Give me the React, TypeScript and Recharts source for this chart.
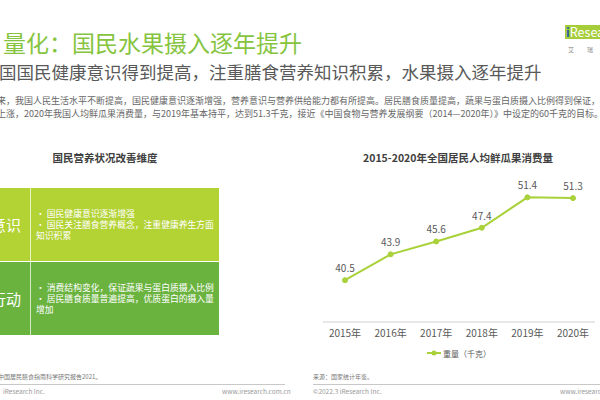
import React from 'react';
import { LineChart, Line, XAxis, YAxis, LabelList, Legend } from 'recharts';

// 数据
const years = ['2015年', '2016年', '2017年', '2018年', '2019年', '2020年'];
const consumption = [40.5, 43.9, 45.6, 47.4, 51.4, 51.3];
const seriesName = '重量（千克）';
const yDomain = [35, 55];

const awarenessPoints = ['• 国民健康意识逐渐增强', '• 国民关注膳食营养概念，注重健康养生方面知识积累'];
const actionPoints = ['• 消费结构变化，保证蔬果与蛋白质摄入比例', '• 居民膳食质量普遍提高，优质蛋白的摄入量增加'];

const LINE_COLOR = '#a9d13a';
const FONT = '"Noto Sans CJK SC", "Noto Sans", sans-serif';

const data = years.map((y, i) => ({ year: y, value: consumption[i] }));

function LegendContent() {
  return (
    <div style={{ height: 24, display: 'flex', justifyContent: 'center', alignItems: 'flex-start' }}>
      <div style={{ display: 'flex', alignItems: 'center', height: 14, fontSize: 8, color: '#595959' }}>
        <svg width={14} height={8} style={{ marginRight: 2 }}>
          <line x1={0} y1={4} x2={14} y2={4} stroke={LINE_COLOR} strokeWidth={2} />
          <circle cx={7} cy={4} r={2.5} fill={LINE_COLOR} />
        </svg>
        <span>{seriesName}</span>
      </div>
    </div>
  );
}

function Box({ top, color, label, points }) {
  return (
    <div style={{ position: 'absolute', left: 0, top, width: 219, height: 73, background: color, display: 'flex' }}>
      <div style={{ width: 30, borderRight: '1px solid rgba(255,255,255,0.7)', position: 'relative' }}>
        <div style={{ position: 'absolute', right: 9, top: 28, fontSize: 15, lineHeight: '17px', color: '#fff', whiteSpace: 'nowrap' }}>{label}</div>
      </div>
      <div style={{ flex: 1, display: 'flex', flexDirection: 'column', justifyContent: 'center', padding: '0 4px 0 5px', fontSize: 8.8, lineHeight: '11.3px', color: '#fff' }}>
        {points.map(p => <div key={p}>{p}</div>)}
      </div>
    </div>
  );
}

export default function App() {
  const abs = (extra) => ({ position: 'absolute' as const, whiteSpace: 'nowrap' as const, lineHeight: 1, ...extra });
  return (
    <div style={{ position: 'absolute', left: 0, top: 0, width: 600, height: 400, overflow: 'hidden', background: '#fff', fontFamily: FONT }}>
      {/* 标题 */}
      <div style={abs({ left: 3, top: 31, fontSize: 23, color: '#86c440' })}>量化：国民水果摄入逐年提升</div>
      <div style={abs({ left: -1, top: 63, fontSize: 17.5, color: '#595959' })}>国国民健康意识得到提高，注重膳食营养知识积累，水果摄入逐年提升</div>
      <div style={abs({ left: -3, top: 95.5, fontSize: 9, color: '#666' })}>来，我国人民生活水平不断提高，国民健康意识逐渐增强，营养意识与营养供给能力都有所提高。居民膳食质量提高，蔬果与蛋白质摄入比例得到保证，摄</div>
      <div style={abs({ left: -3, top: 108.5, fontSize: 9, color: '#666' })}>上涨，2020年我国人均鲜瓜果消费量，与2019年基本持平，达到51.3千克，接近《中国食物与营养发展纲要（2014—2020年）》中设定的60千克的目标。</div>

      {/* logo */}
      <div style={abs({ left: 565, top: 25, width: 40, height: 14, background: '#a5cd39', fontSize: 12.5, lineHeight: '14px', color: '#fff', paddingLeft: 1 })}>
        <span style={{ color: '#2b5fa8', fontWeight: 'bold' }}>i</span>Research
      </div>
      <div style={abs({ left: 568, top: 47, fontSize: 6, color: '#888' })}>艾</div>
      <div style={abs({ left: 587, top: 47, fontSize: 6, color: '#888' })}>瑞</div>

      {/* 左侧 */}
      <div style={abs({ left: 0, top: 152.5, width: 210, textAlign: 'center', fontSize: 10.5, fontWeight: 'bold', color: '#404040' })}>国民营养状况改善维度</div>
      <Box top={188} color="#b3d234" label="意识" points={awarenessPoints} />
      <div style={{ position: 'absolute', left: 0, top: 261, width: 219, height: 1, background: '#fff' }} />
      <Box top={262} color="#6bb33f" label="行动" points={actionPoints} />

      {/* 右侧图表 */}
      <div style={abs({ left: 358, top: 152.5, width: 200, textAlign: 'center', fontSize: 10.5, fontWeight: 'bold', color: '#404040' })}>2015-2020年全国居民人均鲜瓜果消费量</div>
      <div style={{ position: 'absolute', left: 300, top: 160 }}>
        <LineChart width={300} height={210} data={data} margin={{ top: 10, right: 5, left: 23, bottom: 0 }}>
          <XAxis
            dataKey="year"
            height={24}
            padding={{ left: 22, right: 22 }}
            tickLine={false}
            axisLine={{ stroke: '#d0d0d0' }}
            tick={{ fontSize: 10, fill: '#595959' }}
            tickMargin={2}
            interval={0}
          />
          <YAxis hide domain={yDomain} />
          <Legend verticalAlign="bottom" content={<LegendContent />} />
          <Line
            dataKey="value"
            name={seriesName}
            stroke={LINE_COLOR}
            strokeWidth={2}
            dot={{ r: 2.5, fill: LINE_COLOR, stroke: LINE_COLOR, strokeWidth: 1 }}
            isAnimationActive={false}
          >
            <LabelList dataKey="value" position="top" offset={8} style={{ fontSize: 10, fill: '#595959' }} />
          </Line>
        </LineChart>
      </div>

      {/* 页脚 */}
      <div style={abs({ left: -2, top: 374, fontSize: 6, color: '#777' })}>中国居民膳食指南科学研究报告2021。</div>
      <div style={{ position: 'absolute', left: 0, top: 384, width: 285, height: 1, background: '#c8c8c8' }} />
      <div style={abs({ left: 3, top: 388, fontSize: 6.5, color: '#999' })}>iResearch Inc.</div>
      <div style={abs({ left: 222, top: 388, width: 63, textAlign: 'right', fontSize: 6.5, color: '#999' })}>www.iresearch.com.cn</div>

      <div style={abs({ left: 313, top: 374, fontSize: 6, color: '#777' })}>来源：国家统计年鉴。</div>
      <div style={{ position: 'absolute', left: 313, top: 384, width: 287, height: 1, background: '#c8c8c8' }} />
      <div style={abs({ left: 313, top: 388, fontSize: 6.5, color: '#999' })}>©2022.3 iResearch Inc.</div>
      <div style={abs({ left: 560, top: 388, fontSize: 6.5, color: '#999' })}>www.iresearch.com.cn</div>
    </div>
  );
}
